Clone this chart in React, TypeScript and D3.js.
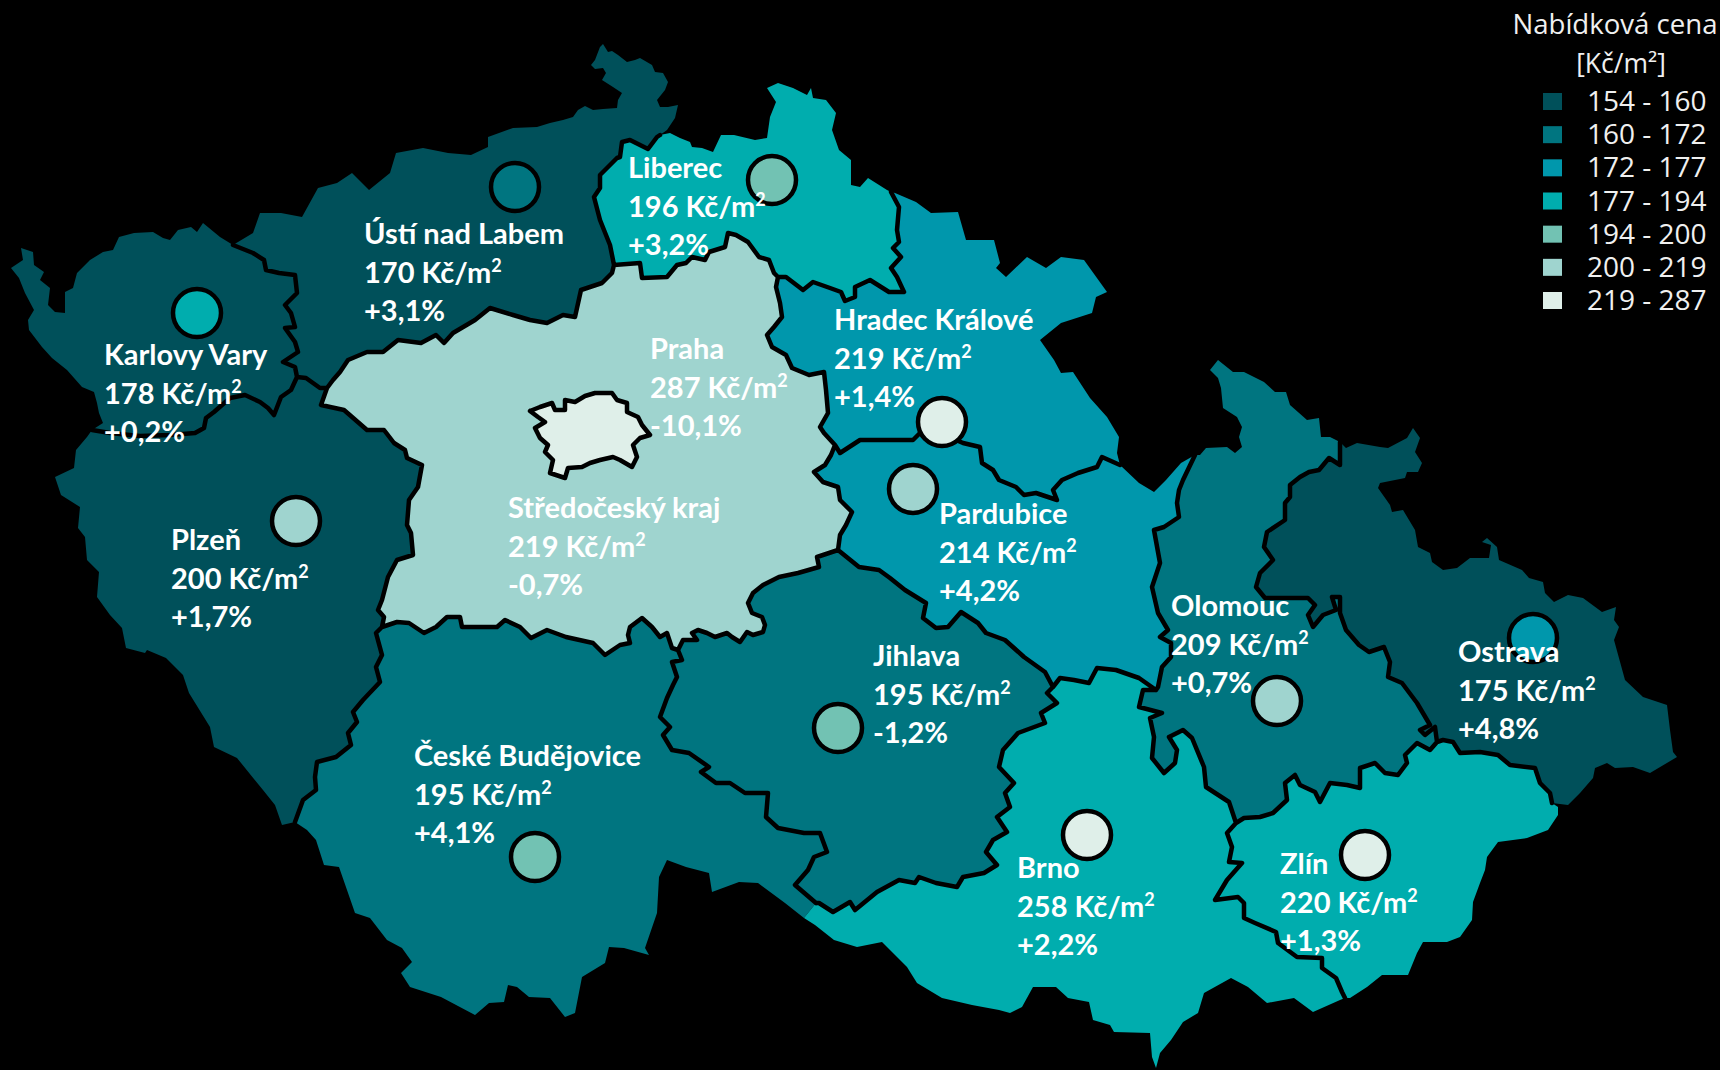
import React, { useEffect, useRef } from 'react'
import * as d3 from 'd3'

type Pt = [number, number]

// price bins, legend
const legendLabels = ['154 - 160', '160 - 172', '172 - 177', '177 - 194', '194 - 200', '200 - 219', '219 - 287']
const binColors = ['#00505a', '#007580', '#0097ac', '#00adae', '#72c2b3', '#9fd4cf', '#dfefe9']
const binBreaks = [160, 172, 177, 194, 200, 219]

// cities
const cities = ['Ústí nad Labem', 'Karlovy Vary', 'Liberec', 'Praha', 'Hradec Králové', 'Středočeský kraj', 'Plzeň', 'Pardubice', 'Olomouc', 'Ostrava', 'Jihlava', 'České Budějovice', 'Brno', 'Zlín']
const prices = [170, 178, 196, 287, 219, 219, 200, 214, 209, 175, 195, 195, 258, 220]
const changes = ['+3,1%', '+0,2%', '+3,2%', '-10,1%', '+1,4%', '-0,7%', '+1,7%', '+4,2%', '+0,7%', '+4,8%', '-1,2%', '+4,1%', '+2,2%', '+1,3%']
const labelAnchors: Pt[] = [[364, 244], [104, 365], [628, 178], [650, 359], [834, 330], [508, 518], [171, 550], [939, 524], [1171, 616], [1458, 662], [873, 666], [414, 766], [1017, 878], [1280, 874]]
// no marker for Praha and Středočeský kraj
const markers: (Pt | null)[] = [[515, 187], [197, 313], [772, 180], null, [942, 422], null, [296, 521], [913, 489], [1277, 701], [1533, 638], [838, 728], [535, 857], [1087, 835], [1365, 855]]

// border arcs, shared between neighbouring regions
const kvOuter: Pt[] = [[233,245],[220,237],[203,223],[197,232],[191,227],[178,230],[170,240],[163,238],[153,232],[134,233],[119,237],[113,250],[103,252],[90,260],[77,273],[73,288],[65,292],[65,313],[55,312],[48,305],[50,288],[40,280],[44,272],[34,265],[33,252],[21,248],[23,260],[11,268],[19,278],[25,293],[34,310],[28,320],[29,330],[42,347],[52,358],[67,370],[82,387],[94,392],[97,403],[99,413],[103,423],[92,430]]
const kvPlzen: Pt[] = [[92,430],[110,433],[140,436],[170,435],[195,433],[204,428],[206,418],[214,412],[230,398],[245,395],[260,402],[268,408],[274,415],[281,397],[291,390],[297,377]]
const kvUsti: Pt[] = [[233,245],[253,253],[264,260],[266,270],[279,273],[295,275],[297,293],[285,305],[291,313],[295,327],[285,328],[295,342],[298,352],[283,362],[295,367],[297,377]]
const usPlzen: Pt[] = [[297,377],[306,378],[320,388],[327,388]]
const usStred: Pt[] = [[327,388],[333,380],[340,372],[348,360],[367,352],[383,352],[398,340],[421,343],[436,335],[444,343],[453,333],[475,320],[490,308],[513,315],[530,320],[547,323],[563,315],[575,317],[581,290],[602,283],[612,273],[614,265]]
const usLiberec: Pt[] = [[614,265],[610,245],[600,220],[594,197],[600,188],[600,175],[617,158],[620,157],[622,142],[630,140],[640,145],[648,149],[657,137],[660,135]]
const usOuter: Pt[] = [[660,135],[667,130],[675,118],[678,105],[668,107],[660,107],[657,100],[665,90],[668,82],[663,73],[655,72],[652,65],[640,58],[635,60],[627,62],[618,55],[612,51],[608,52],[603,44],[600,47],[595,60],[591,65],[595,69],[603,68],[606,73],[602,80],[613,87],[622,93],[618,100],[617,108],[603,109],[593,110],[585,106],[578,110],[573,117],[563,120],[550,123],[537,127],[513,128],[488,137],[488,147],[471,155],[448,153],[423,148],[396,153],[390,173],[369,190],[352,173],[337,183],[318,188],[302,217],[281,213],[260,213],[253,233],[233,245]]
const plOuter: Pt[] = [[92,430],[87,437],[76,450],[74,468],[55,477],[61,495],[80,507],[78,528],[85,537],[87,560],[99,572],[97,597],[110,615],[122,628],[126,648],[145,653],[147,650],[166,658],[183,675],[189,693],[210,727],[214,747],[237,758],[263,790],[275,805],[282,825],[295,822]]
const plStred: Pt[] = [[327,388],[321,405],[344,410],[367,430],[384,430],[394,443],[405,450],[407,458],[422,465],[418,487],[409,500],[407,525],[411,533],[413,555],[397,560],[388,577],[382,600],[378,610],[384,617],[382,627]]
const plCb: Pt[] = [[382,627],[376,633],[382,655],[376,667],[380,682],[363,700],[353,712],[357,722],[348,733],[351,745],[336,757],[317,762],[315,777],[316,790],[303,800],[295,822]]
const libOuter: Pt[] = [[660,135],[670,133],[680,138],[690,142],[692,147],[702,148],[713,152],[721,135],[734,135],[755,140],[767,138],[770,117],[776,102],[767,88],[778,83],[793,88],[807,95],[811,88],[813,98],[826,100],[836,113],[832,130],[839,150],[851,160],[851,185],[860,187],[868,178],[887,190],[891,192]]
const libHradec: Pt[] = [[891,192],[899,207],[897,230],[899,242],[893,248],[901,257],[891,268],[897,277],[904,292],[889,292],[870,280],[855,287],[855,297],[845,301],[841,292],[830,288],[813,282],[803,290],[786,277],[778,277]]
const libStred: Pt[] = [[614,265],[640,263],[642,278],[667,277],[677,265],[686,263],[692,257],[705,260],[709,252],[725,247],[728,233],[736,235],[748,242],[759,257],[769,260],[774,273],[778,277]]
const stredHk: Pt[] = [[778,277],[776,287],[780,303],[782,317],[774,327],[767,335],[772,347],[786,355],[792,368],[809,375],[824,372],[826,390],[828,413],[820,427],[824,433],[835,445]]
const hkOuter: Pt[] = [[891,192],[895,193],[916,202],[931,213],[958,212],[966,240],[994,240],[1000,263],[996,268],[1006,277],[1027,257],[1046,268],[1061,257],[1084,260],[1107,292],[1096,297],[1092,313],[1061,323],[1040,340],[1054,360],[1061,373],[1073,372],[1090,398],[1107,417],[1119,437],[1117,453],[1120,465]]
const hkPard: Pt[] = [[835,445],[840,453],[860,440],[886,440],[913,440],[921,432],[940,433],[963,443],[980,447],[982,463],[993,470],[999,480],[1016,487],[1024,495],[1036,493],[1057,500],[1053,490],[1062,480],[1078,473],[1097,467],[1102,457],[1120,465]]
const pardOuter: Pt[] = [[1120,465],[1139,483],[1154,492],[1166,480],[1181,463],[1195,455]]
const pardOlo: Pt[] = [[1195,455],[1183,480],[1179,490],[1177,503],[1179,517],[1164,527],[1154,530],[1160,563],[1152,587],[1158,613],[1168,630],[1160,637],[1171,643],[1171,657],[1162,667],[1158,687],[1156,690]]
const pardBrno: Pt[] = [[1156,690],[1139,678],[1116,670],[1097,668],[1089,683],[1074,680],[1060,678],[1053,687]]
const pardJih: Pt[] = [[1053,687],[1045,672],[1024,657],[1005,640],[986,633],[978,623],[961,612],[948,627],[936,628],[923,618],[926,603],[905,590],[890,578],[879,570],[859,567],[838,550]]
const stredPard: Pt[] = [[835,445],[831,455],[825,465],[814,472],[823,482],[838,487],[840,500],[852,512],[846,525],[840,535],[838,550]]
const stredJih: Pt[] = [[838,550],[817,557],[819,567],[798,573],[779,577],[763,585],[753,593],[748,603],[752,613],[762,617],[765,625],[763,632],[753,635],[747,632],[740,642],[732,637],[727,633],[715,637],[707,633],[698,630],[692,633],[697,640],[683,640],[678,650]]
const stredCb: Pt[] = [[678,650],[672,648],[667,633],[660,637],[652,627],[642,618],[630,627],[628,635],[630,643],[620,645],[605,655],[593,643],[566,637],[547,630],[531,638],[520,627],[505,620],[497,627],[462,627],[460,617],[447,617],[436,627],[424,633],[409,623],[397,622],[382,627]]
const cbJih: Pt[] = [[678,650],[682,660],[672,662],[677,677],[673,685],[667,698],[660,717],[670,727],[663,735],[672,750],[689,753],[709,767],[701,772],[716,783],[730,783],[745,793],[768,793],[766,817],[778,828],[804,833],[820,833],[827,852],[814,857],[808,870],[795,885],[816,903]]
const cbBrno: Pt[] = [[816,903],[804,918]]
const cbOuter: Pt[] = [[295,822],[307,830],[316,840],[324,865],[339,867],[347,890],[355,913],[370,918],[387,940],[402,948],[412,962],[401,973],[410,987],[441,997],[475,1015],[489,1003],[504,1002],[508,985],[517,987],[529,997],[550,998],[565,1017],[575,1013],[582,977],[605,963],[609,947],[624,948],[649,955],[645,948],[657,913],[659,877],[667,860],[686,867],[709,873],[712,892],[739,882],[758,883],[785,903],[804,918]]
const jihBrno: Pt[] = [[1053,687],[1047,693],[1057,703],[1041,713],[1045,723],[1018,733],[1003,750],[999,767],[1014,783],[1005,793],[1010,807],[997,817],[1007,832],[993,840],[986,852],[997,865],[984,873],[963,877],[957,887],[936,883],[919,877],[915,883],[899,880],[877,892],[855,910],[850,902],[833,912],[819,903],[816,903]]
const brnoOuter: Pt[] = [[804,918],[815,925],[834,940],[857,947],[882,942],[907,967],[917,983],[942,998],[972,1005],[999,1010],[1010,1013],[1022,1007],[1033,987],[1056,987],[1068,998],[1089,1002],[1093,1020],[1110,1025],[1114,1032],[1150,1033],[1152,1057],[1156,1068],[1160,1053],[1171,1040],[1183,1022],[1198,1013],[1204,993],[1231,978],[1248,987],[1267,1003],[1294,998],[1313,1012],[1340,1000],[1345,998]]
const brnoOlo: Pt[] = [[1156,690],[1143,690],[1139,707],[1162,713],[1150,718],[1154,737],[1152,758],[1164,773],[1175,763],[1177,750],[1169,737],[1183,730],[1192,738],[1204,767],[1206,787],[1229,802],[1236,823]]
const zlinBrno: Pt[] = [[1345,998],[1342,992],[1336,978],[1322,968],[1322,958],[1297,957],[1278,943],[1276,932],[1255,923],[1244,918],[1244,903],[1238,897],[1215,900],[1227,880],[1242,863],[1229,862],[1232,847],[1227,833],[1236,823]]
const oloZlin: Pt[] = [[1236,823],[1244,818],[1260,817],[1273,813],[1287,800],[1285,783],[1295,775],[1300,785],[1315,792],[1320,802],[1330,783],[1347,785],[1360,788],[1360,768],[1375,763],[1385,773],[1398,775],[1407,763],[1405,755],[1417,743],[1430,750],[1437,742]]
const oloOuter: Pt[] = [[1195,455],[1200,455],[1206,448],[1227,447],[1235,453],[1242,447],[1239,437],[1242,427],[1237,417],[1223,408],[1221,388],[1218,378],[1210,370],[1218,360],[1233,372],[1244,372],[1264,382],[1275,392],[1286,392],[1290,405],[1307,420],[1319,418],[1321,437],[1330,437],[1340,442]]
const oloOstrava: Pt[] = [[1340,442],[1340,465],[1329,458],[1319,470],[1309,472],[1300,477],[1290,485],[1290,497],[1285,503],[1285,520],[1267,532],[1264,547],[1273,560],[1260,573],[1256,587],[1265,598],[1308,598],[1315,605],[1308,615],[1313,627],[1323,615],[1336,610],[1332,597],[1340,597],[1340,613],[1346,630],[1359,645],[1369,652],[1384,647],[1390,662],[1388,677],[1402,683],[1417,703],[1430,725],[1420,730],[1425,735],[1435,727],[1437,742]]
const ostOuter: Pt[] = [[1340,442],[1346,448],[1357,443],[1380,447],[1388,448],[1407,438],[1413,428],[1420,438],[1415,452],[1422,463],[1418,472],[1407,472],[1405,478],[1380,483],[1378,488],[1390,505],[1392,512],[1403,510],[1415,530],[1418,547],[1430,553],[1432,562],[1443,570],[1457,568],[1470,558],[1489,558],[1491,545],[1482,542],[1487,538],[1497,547],[1499,560],[1522,570],[1529,578],[1543,582],[1545,593],[1554,602],[1568,595],[1583,598],[1602,612],[1616,607],[1614,620],[1619,627],[1614,640],[1625,680],[1643,697],[1667,705],[1670,730],[1673,752],[1677,757],[1650,773],[1633,767],[1615,768],[1607,763],[1595,768],[1593,778],[1580,793],[1568,805],[1552,803]]
const ostZlin: Pt[] = [[1437,742],[1443,740],[1453,742],[1460,753],[1480,752],[1498,755],[1510,765],[1535,768],[1540,783],[1550,793],[1552,803]]
const zlinOuter: Pt[] = [[1552,803],[1558,807],[1558,815],[1548,830],[1527,838],[1498,842],[1487,857],[1485,870],[1480,883],[1473,902],[1472,920],[1460,937],[1447,942],[1423,942],[1417,953],[1408,975],[1382,975],[1367,987],[1350,998],[1345,998]]
const prahaRing: Pt[] = [[530,411],[540,407],[552,403],[555,410],[565,410],[565,400],[575,402],[585,396],[595,393],[612,393],[617,400],[627,403],[627,412],[638,417],[642,425],[650,435],[640,438],[633,445],[637,457],[632,467],[620,460],[613,457],[600,460],[590,463],[582,467],[568,468],[565,478],[550,473],[553,460],[545,452],[548,445],[540,438],[535,428],[545,422],[538,417],[530,411]]

const rev = (a: Pt[]) => [...a].reverse()

// rings with the legend bin each region is filled with
const regionRings: Pt[][][] = [
    [kvOuter, kvPlzen, rev(kvUsti)],
    [usOuter, kvUsti, usPlzen, usStred, usLiberec],
    [plOuter, rev(plCb), rev(plStred), rev(usPlzen), rev(kvPlzen)],
    [libOuter, libHradec, rev(libStred), usLiberec],
    [hkOuter, rev(hkPard), rev(stredHk), rev(libHradec)],
    [hkPard, pardOuter, pardOlo, pardBrno, pardJih, rev(stredPard)],
    [usStred, libStred, stredHk, stredPard, stredJih, stredCb, rev(plStred)],
    [rev(stredJih), rev(pardJih), jihBrno, rev(cbJih)],
    [rev(stredCb), cbJih, cbBrno, rev(cbOuter), rev(plCb)],
    [rev(jihBrno), rev(pardBrno), brnoOlo, rev(zlinBrno), rev(brnoOuter), rev(cbBrno)],
    [oloOuter, oloOstrava, rev(oloZlin), rev(brnoOlo), rev(pardOlo)],
    [ostOuter, rev(ostZlin), rev(oloOstrava)],
    [oloZlin, ostZlin, zlinOuter, zlinBrno],
    [prahaRing],
]
const regionBins = [0, 0, 0, 3, 2, 2, 5, 1, 1, 3, 1, 0, 3, 6]

const innerBorders = [kvPlzen, kvUsti, usPlzen, usStred, usLiberec, plStred, plCb, libHradec, libStred, stredHk, hkPard, pardOlo, pardBrno, pardJih, stredPard, stredJih, stredCb, cbJih, jihBrno, brnoOlo, zlinBrno, oloZlin, oloOstrava, ostZlin, prahaRing]

export default function App() {
    const ref = useRef<SVGSVGElement>(null)

    useEffect(() => {
        const width = 1720
        const height = 1070
        const svg = d3.select(ref.current)
        svg.selectAll('*').remove()
        svg.attr('width', width).attr('height', height).attr('viewBox', [0, 0, width, height])

        svg.append('rect').attr('width', width).attr('height', height).attr('fill', '#000')

        const path = d3.geoPath(d3.geoIdentity())
        const color = d3.scaleThreshold<number, string>().domain(binBreaks).range(binColors)

        svg.append('g')
            .selectAll('path')
            .data(regionRings)
            .join('path')
            .attr('d', d => path({ type: 'Polygon', coordinates: [d.flat()] } as any))
            .attr('fill', (d, i) => binColors[regionBins[i]])

        svg.append('path')
            .attr('d', path({ type: 'MultiLineString', coordinates: innerBorders } as any))
            .attr('fill', 'none')
            .attr('stroke', '#000')
            .attr('stroke-width', 4.5)
            .attr('stroke-linejoin', 'round')
            .attr('stroke-linecap', 'round')

        // city markers
        svg.append('g')
            .selectAll('circle')
            .data(markers.map((m, i) => ({ m, price: prices[i] })).filter(d => d.m))
            .join('circle')
            .attr('cx', d => d.m![0])
            .attr('cy', d => d.m![1])
            .attr('r', 24)
            .attr('fill', d => color(d.price))
            .attr('stroke', '#000')
            .attr('stroke-width', 4.5)

        const lineStep = 38.7
        const supLift = 11
        const labels = svg.append('g')
            .attr('font-family', 'Lato, sans-serif')
            .attr('font-weight', 700)
            .attr('font-size', 29)
            .attr('fill', '#fff')
            .selectAll('text')
            .data(cities)
            .join('text')
            .attr('x', (d, i) => labelAnchors[i][0])
            .attr('y', (d, i) => labelAnchors[i][1])

        // name, price with a raised 2, change
        labels.selectAll('tspan')
            .data((d, i) => [
                { text: d, x: labelAnchors[i][0], dy: 0 },
                { text: `${prices[i]} Kč/m`, x: labelAnchors[i][0], dy: lineStep },
                { text: '2', dy: -supLift, size: 18 },
                { text: changes[i], x: labelAnchors[i][0], dy: lineStep + supLift },
            ])
            .join('tspan')
            .attr('x', (d: any) => d.x ?? null)
            .attr('dy', (d: any) => d.dy)
            .attr('font-size', (d: any) => d.size ?? null)
            .text((d: any) => d.text)

        // legend
        const legend = svg.append('g').attr('font-family', '"Open Sans", sans-serif').attr('fill', '#f0f0f0')
        legend.append('text').attr('x', 1615).attr('y', 34).attr('text-anchor', 'middle').attr('font-size', 27.6).text('Nabídková cena')
        legend.append('text').attr('x', 1621).attr('y', 73).attr('text-anchor', 'middle').attr('font-size', 26.5).text('[Kč/m²]')

        const rowY = d3.scaleLinear().domain([0, 6]).range([111, 310])
        legend.selectAll('rect')
            .data(legendLabels)
            .join('rect')
            .attr('x', 1543)
            .attr('y', (d, i) => rowY(i) - 18)
            .attr('width', 19)
            .attr('height', 17)
            .attr('fill', (d, i) => binColors[i])
        legend.selectAll('text.row')
            .data(legendLabels)
            .join('text')
            .attr('class', 'row')
            .attr('x', 1587)
            .attr('y', (d, i) => rowY(i))
            .attr('font-size', 28)
            .text(d => d)
    }, [])

    return <svg ref={ref} style={{ position: 'absolute', left: 0, top: 0, display: 'block' }} />
}
